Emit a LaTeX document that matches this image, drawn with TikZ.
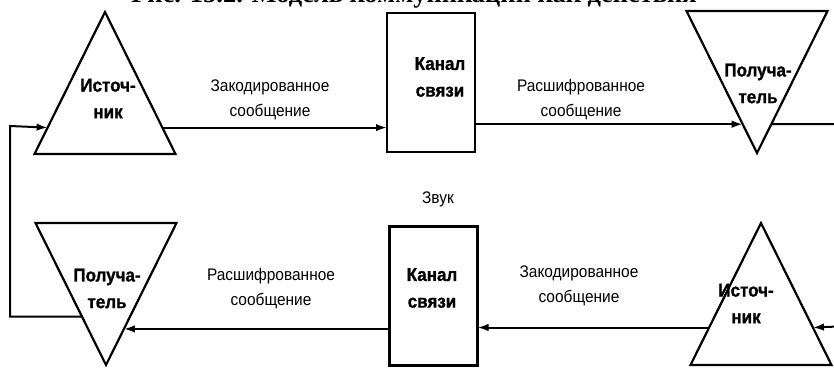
\documentclass[tikz,border=0pt]{standalone}
\usepackage{fontspec}
\setmainfont{Liberation Sans}[FakeStretch=0.92,BoldFeatures={FakeBold=1.2}]
\newfontfamily\capfont{Liberation Serif}
\usetikzlibrary{arrows.meta,positioning,calc,shapes.geometric}

\begin{document}
\begin{tikzpicture}[x=1pt,y=-1pt,>={Latex[length=11pt,width=7.5pt]},
  tri/.style={draw,line width=2.2pt,isosceles triangle,isosceles triangle stretches,minimum width=141pt,minimum height=142pt,inner sep=0pt,outer sep=0pt},
  chan/.style={draw,line width=2.2pt,minimum width=88pt,minimum height=139pt,inner sep=0pt,outer sep=0pt},
  who/.style={font=\bfseries\fontsize{18.5}{26.7}\selectfont,align=center,inner sep=0pt},
  msg/.style={font=\fontsize{16.8}{25}\selectfont,align=center,inner sep=0pt},
  wire/.style={line width=2pt}]
\useasboundingbox (0,0) rectangle (834,368);
\clip (0,0) rectangle (834,368);
\node[anchor=base,font=\capfont\bfseries\fontsize{26.5}{30}\selectfont] (title) at (414,2.5) {Рис. 15.2. Модель коммуникации как действия};

% upper row: source -> channel -> receiver
\node[tri,shape border rotate=90,anchor=apex] (srcA) at (105,12) {};
\node[chan] (chanA) at (431,82.5) {};
\node[tri,shape border rotate=270,anchor=apex] (rcvA) at (757,153) {};
\node[who] (srcA-t) at (108,98.5) {Источ-\\ник};
\node[who] (chanA-t) at (440,77) {Канал\\связи};
\node[who] (rcvA-t) at (758,83.5) {Получа-\\тель};
\node[msg] (encA) at (270,100) {Закодированное\\сообщение};
\node[msg] (decA) at (581,100) {Расшифрованное\\сообщение};

% lower row: source -> channel -> receiver, right to left
\node[tri,shape border rotate=90,anchor=apex] (srcB) at (761,223) {};
\node[chan] (chanB) at (433.5,296) {};
\node[tri,shape border rotate=270,anchor=apex] (rcvB) at (106,365) {};
\node[who] (srcB-t) at (746,303.5) {Источ-\\ник};
\node[who] (chanB-t) at (432,288) {Канал\\связи};
\node[who] (rcvB-t) at (107,288.5) {Получа-\\тель};
\node[msg] (encB) at (579,286) {Закодированное\\сообщение};
\node[msg] (decB) at (271,289) {Расшифрованное\\сообщение};
\node[msg] (noise) at (438,199) {Звук};

% points on the triangle sides
\coordinate (a0) at ($(srcA.apex)!0.814!(srcA.left corner)$);
\coordinate (a1) at ($(srcA.apex)!0.814!(srcA.right corner)$);
\coordinate (c1) at ($(rcvA.apex)!0.203!(rcvA.right corner)$);
\coordinate (c2) at ($(rcvA.apex)!0.203!(rcvA.left corner)$);
\coordinate (e1) at ($(srcB.apex)!0.736!(srcB.left corner)$);
\coordinate (e2) at ($(srcB.apex)!0.736!(srcB.right corner)$);
\coordinate (f1) at ($(rcvB.apex)!0.254!(rcvB.left corner)$);
\coordinate (f2) at ($(rcvB.apex)!0.341!(rcvB.right corner)$);
\coordinate (loopL) at (10,126);
\coordinate (loopR) at (850,326);

\draw[wire,->] (a1) -- (a1 -| chanA.west);
\draw[wire,->] (chanA.east |- c1) -- (c1);
\draw[wire,->] (e1) -- (e1 -| chanB.east);
\draw[wire,->] (chanB.west |- f1) -- (f1);
\draw[wire,->] (f2) -| (loopL) -- (a0);
\draw[wire,->] (c2) -| (loopR) -- (e2);
\end{tikzpicture}
\end{document}
